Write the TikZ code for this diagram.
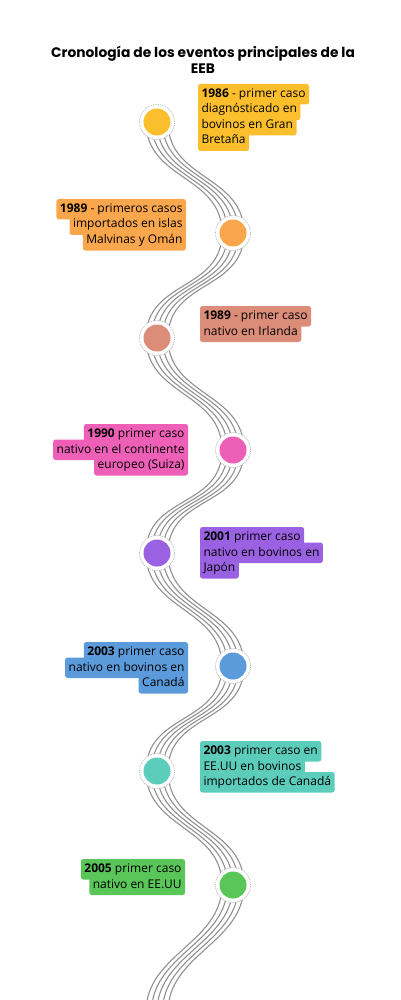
\documentclass[tikz,border=0pt]{standalone}
\usepackage{fontspec}
\setmainfont{Open Sans}
\newfontfamily\titlefont{Poppins}
\usetikzlibrary{positioning}

\definecolor{evyellow}{RGB}{251,191,45}
\definecolor{evorange}{RGB}{249,166,77}
\definecolor{evterra}{RGB}{220,141,121}
\definecolor{evpink}{RGB}{238,96,184}
\definecolor{evpurple}{RGB}{154,98,226}
\definecolor{evblue}{RGB}{91,155,219}
\definecolor{evteal}{RGB}{92,205,187}
\definecolor{evgreen}{RGB}{90,197,89}
\definecolor{strandgray}{RGB}{145,145,145}

\tikzset{
  lbl/.style={fill=#1, rounded corners=2.5pt, inner xsep=3.5pt, inner ysep=0pt, outer sep=0pt,
    minimum height=20.5pt, text height=9pt, text depth=2.5pt,
    font=\fontsize{12}{15}\selectfont, text=black},
  strand/.style={draw=strandgray, line width=1.1pt},
  ring/.style={circle, draw=gray!60, densely dotted, line width=0.8pt, fill=white,
    minimum size=35pt, inner sep=0pt},
  title/.style={align=center, font=\titlefont\bfseries\fontsize{13.8}{16}\selectfont}
}

\begin{document}
\begin{tikzpicture}[x=1pt,y=-1pt]
  \clip (0,0) rectangle (400,1000);
  \fill[white] (0,0) rectangle (400,1000);

  % centres of the timeline points
  \coordinate (p1) at (157,122);
  \coordinate (p2) at (233,233);
  \coordinate (p3) at (157,338);
  \coordinate (p4) at (233,450);
  \coordinate (p5) at (157,553);
  \coordinate (p6) at (233,666);
  \coordinate (p7) at (157,771);
  \coordinate (p8) at (233,885);
  \coordinate (p9) at (157,1012);

  % strands between the points
  \foreach \a/\b in {p1/p2,p2/p3,p3/p4,p4/p5,p5/p6,p6/p7,p7/p8,p8/p9}
    \foreach \o in {-11,-5.5,0,5.5,11}
      \draw[strand] ([xshift=\o pt]\a) .. controls +(0,58) and +(0,-58) .. ([xshift=\o pt]\b);

  % points
  \foreach \p/\c in {p1/evyellow,p2/evorange,p3/evterra,p4/evpink,p5/evpurple,p6/evblue,p7/evteal,p8/evgreen}{
    \node[ring] (c\p) at (\p) {};
    \fill[\c] (\p) circle (13.5);
  }

  % title
  \node[title] (tt) at (203,60) {Cronología de los eventos principales de la\\EEB};

  % 1986
  \node[lbl=evyellow, anchor=north west] (e1a) at (198,84) {\textbf{1986} - primer caso};
  \node[lbl=evyellow, below right=-5pt and 0pt of e1a.south west] (e1b) {diagnósticado en};
  \node[lbl=evyellow, below right=-5pt and 0pt of e1b.south west] (e1c) {bovinos en Gran};
  \node[lbl=evyellow, below right=-5pt and 0pt of e1c.south west] (e1d) {Bretaña};

  % 1989 Malvinas
  \node[lbl=evorange, anchor=north east] (e2a) at (186,199) {\textbf{1989} - primeros casos};
  \node[lbl=evorange, below left=-5pt and 0pt of e2a.south east] (e2b) {importados en islas};
  \node[lbl=evorange, below left=-5pt and 0pt of e2b.south east] (e2c) {Malvinas y Omán};

  % 1989 Irlanda
  \node[lbl=evterra, anchor=north west] (e3a) at (200,306) {\textbf{1989} - primer caso};
  \node[lbl=evterra, below right=-5pt and 0pt of e3a.south west] (e3b) {nativo en Irlanda};

  % 1990
  \node[lbl=evpink, anchor=north east] (e4a) at (188,424) {\textbf{1990} primer caso};
  \node[lbl=evpink, below left=-5pt and 0pt of e4a.south east] (e4b) {nativo en el continente};
  \node[lbl=evpink, below left=-5pt and 0pt of e4b.south east] (e4c) {europeo (Suiza)};

  % 2001
  \node[lbl=evpurple, anchor=north west] (e5a) at (200,527) {\textbf{2001} primer caso};
  \node[lbl=evpurple, below right=-5pt and 0pt of e5a.south west] (e5b) {nativo en bovinos en};
  \node[lbl=evpurple, below right=-5pt and 0pt of e5b.south west] (e5c) {Japón};

  % 2003 Canada
  \node[lbl=evblue, anchor=north east] (e6a) at (188,642) {\textbf{2003} primer caso};
  \node[lbl=evblue, below left=-5pt and 0pt of e6a.south east] (e6b) {nativo en bovinos en};
  \node[lbl=evblue, below left=-5pt and 0pt of e6b.south east] (e6c) {Canadá};

  % 2003 EE.UU
  \node[lbl=evteal, anchor=north west] (e7a) at (200,741) {\textbf{2003} primer caso en};
  \node[lbl=evteal, below right=-5pt and 0pt of e7a.south west] (e7b) {EE.UU en bovinos};
  \node[lbl=evteal, below right=-5pt and 0pt of e7b.south west] (e7c) {importados de Canadá};

  % 2005
  \node[lbl=evgreen, anchor=north east] (e8a) at (185,859) {\textbf{2005} primer caso};
  \node[lbl=evgreen, below left=-5pt and 0pt of e8a.south east] (e8b) {nativo en EE.UU};
\end{tikzpicture}
\end{document}
